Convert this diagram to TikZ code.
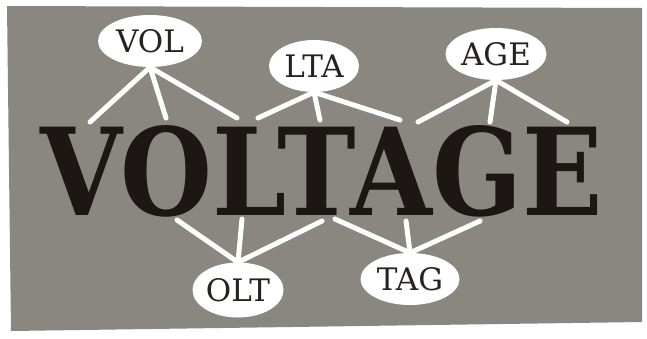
\documentclass[tikz,border=0pt]{standalone}
\usepackage{fontspec}
\setmainfont{DejaVu Serif}
\usepackage{graphicx}
\usetikzlibrary{shapes.geometric}
\definecolor{bg}{RGB}{138,135,128}
\definecolor{ink}{RGB}{28,23,20}
\definecolor{labelink}{RGB}{40,34,30}
\begin{document}
\begin{tikzpicture}[x=1pt,y=-1pt,
  bubble/.style={ellipse, fill=white, minimum width=#1, minimum height=52pt, inner sep=0pt,
    font=\fontsize{31}{31}\selectfont, text=labelink},
  link/.style={draw=white, line width=5pt, line cap=round}]
\useasboundingbox (0,0) rectangle (647,338);
\fill[white] (0,0) rectangle (647,338);
\fill[bg] (7,6) -- (642,8) -- (642,322) -- (11,331) -- cycle;

\node[anchor=base west, inner sep=0pt, text=ink] (word) at (40,215)
  {\resizebox{563pt}{90pt}{\bfseries VOLTAGE}};

% free ends on the letters
\coordinate (v1) at (90,122);  \coordinate (v2) at (166,118); \coordinate (v3) at (237,118);
\coordinate (l1) at (258,118); \coordinate (l2) at (320,120); \coordinate (l3) at (400,120);
\coordinate (a1) at (418,122); \coordinate (a2) at (490,122); \coordinate (a3) at (567,122);
\coordinate (o1) at (177,220); \coordinate (o2) at (242,219); \coordinate (o3) at (322,221);
\coordinate (t1) at (335,219); \coordinate (t2) at (406,221); \coordinate (t3) at (480,221);

\node[bubble=104pt] (vol) at (150,41) {VOL};
\node[bubble=90pt]  (lta) at (314,66) {LTA};
\node[bubble=101pt] (age) at (496,54) {AGE};
\node[bubble=91pt, minimum height=55pt] (olt) at (238,290) {OLT};
\node[bubble=99pt]  (tag) at (410,279) {TAG};

\foreach \e in {v1,v2,v3} \draw[link] (vol.south) -- (\e);
\foreach \e in {l1,l2,l3} \draw[link] (lta.south) -- (\e);
\foreach \e in {a1,a2,a3} \draw[link] (age.south) -- (\e);
\foreach \e in {o1,o2,o3} \draw[link] (olt.north) -- (\e);
\foreach \e in {t1,t2,t3} \draw[link] (tag.north) -- (\e);
\end{tikzpicture}
\end{document}
